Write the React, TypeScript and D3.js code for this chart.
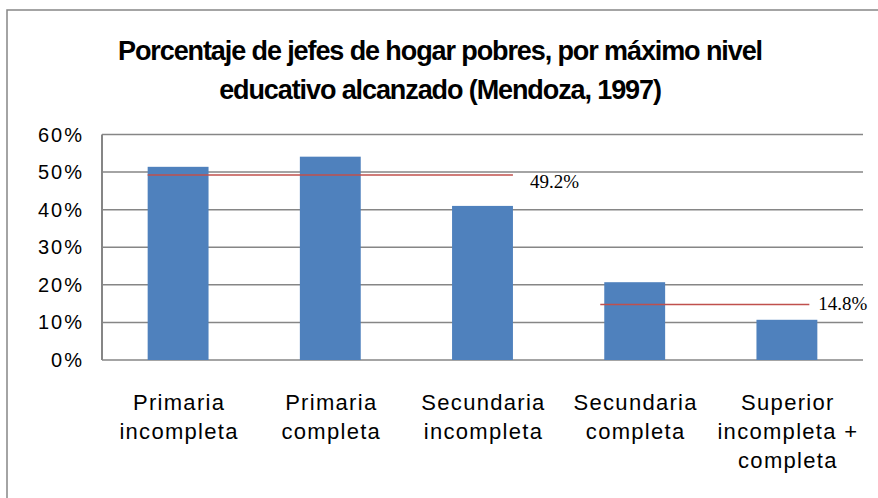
import React from 'react';
import * as d3 from 'd3';

const categories = [
  'Primaria incompleta',
  'Primaria completa',
  'Secundaria incompleta',
  'Secundaria completa',
  'Superior incompleta + completa',
];
const categoryLines = [
  ['Primaria', 'incompleta'],
  ['Primaria', 'completa'],
  ['Secundaria', 'incompleta'],
  ['Secundaria', 'completa'],
  ['Superior', 'incompleta +', 'completa'],
];
const values = [51.4, 54.1, 41.0, 20.7, 10.7];
const yTicks = [0, 10, 20, 30, 40, 50, 60];
const refValues = [49.2, 14.8];
const refFrom = ['Primaria incompleta', 'Secundaria completa'];
const refTo = ['Secundaria incompleta', 'Superior incompleta + completa'];
const titleLines = [
  'Porcentaje de jefes de hogar pobres, por máximo nivel',
  'educativo alcanzado (Mendoza, 1997)',
];

const W = 878;
const H = 498;
const plot = { left: 102, right: 863, top: 134.5, bottom: 360 };
// hand-placed tweaks of the reference lines/labels (px)
const refStyle = [
  { start: 0, end: 0, labelDx: 17, labelDy: 13 },
  { start: -4, end: -8, labelDx: 9, labelDy: 6 },
];

const App: React.FC = () => {
  const x = d3.scaleBand<string>()
    .domain(categories)
    .range([plot.left, plot.right])
    .paddingInner(0.6)
    .paddingOuter(0.3);

  const y = d3.scaleLinear()
    .domain([0, 60])
    .range([plot.bottom, plot.top]);

  const font = 'Arial, "Liberation Sans", sans-serif';

  return (
    <svg width={W} height={H} style={{ position: 'absolute', left: 0, top: 0 }}>
      <rect x={0} y={0} width={W} height={H} fill="#fff" />
      {/* outer chart border, cut off by the picture */}
      <rect x={7} y={10} width={W + 20} height={H + 20} fill="none" stroke="#868686" strokeWidth={1.5} />

      {titleLines.map((t, i) => (
        <text key={i} x={440} y={60 + i * 38.5} textAnchor="middle" fontFamily={font}
          fontWeight="bold" fontSize={27} letterSpacing={-1.1} fill="#000">
          {t}
        </text>
      ))}

      {/* gridlines */}
      {yTicks.map(t => (
        <line key={t} x1={plot.left} x2={plot.right} y1={y(t)} y2={y(t)}
          stroke="#868686" strokeWidth={1.5} />
      ))}
      <line x1={plot.left} x2={plot.left} y1={plot.top} y2={plot.bottom} stroke="#868686" strokeWidth={2} />

      {yTicks.map(t => (
        <text key={t} x={84} y={y(t) + 7} textAnchor="end" fontFamily={font} fontSize={20}
          letterSpacing={2} fill="#000">
          {t}%
        </text>
      ))}

      {values.map((v, i) => (
        <rect key={i} x={x(categories[i])} y={y(v)} width={x.bandwidth()}
          height={y(0) - y(v)} fill="#4F81BD" />
      ))}

      {refValues.map((v, i) => {
        const x1 = x(refFrom[i])! + refStyle[i].start;
        const x2 = x(refTo[i])! + x.bandwidth() + refStyle[i].end;
        return (
          <g key={i}>
            <line x1={x1} x2={x2} y1={y(v)} y2={y(v)} stroke="#C0504D" strokeWidth={1.5} />
            <text x={x2 + refStyle[i].labelDx} y={y(v) + refStyle[i].labelDy}
              fontFamily='"Liberation Serif", "Times New Roman", serif'
              fontSize={19} fill="#000">
              {v.toFixed(1)}%
            </text>
          </g>
        );
      })}

      {categoryLines.map((lines, i) => (
        <text key={i} textAnchor="middle" fontFamily={font} fontSize={22} letterSpacing={1.3}
          fill="#000">
          {lines.map((l, j) => (
            <tspan key={j} x={x(categories[i])! + x.bandwidth() / 2 + 1} y={410 + j * 29}>{l}</tspan>
          ))}
        </text>
      ))}
    </svg>
  );
};

export default App;
